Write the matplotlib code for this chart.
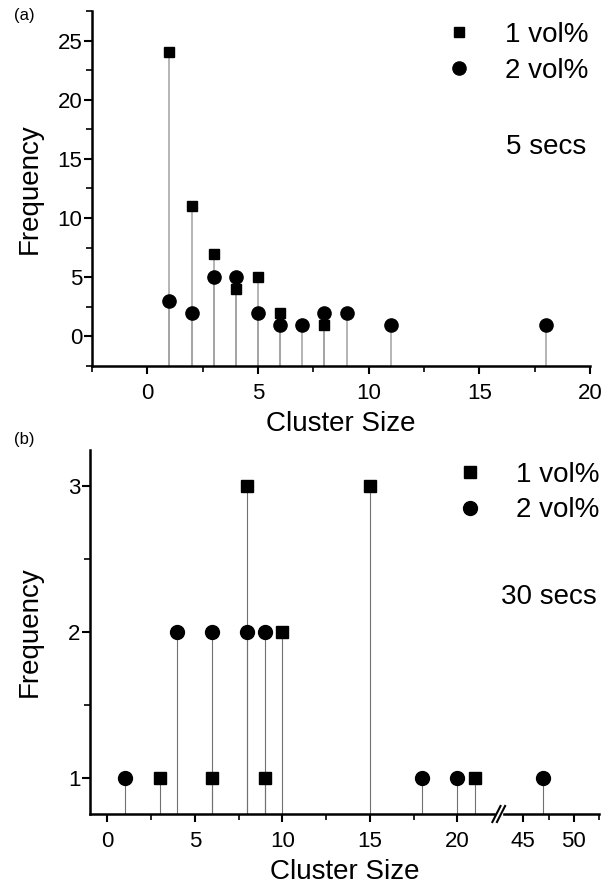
import numpy as np
import matplotlib
matplotlib.use("Agg")
from matplotlib import pyplot as plt
from matplotlib.ticker import FixedLocator, NullFormatter

plt.rcParams['font.family'] = ['Liberation Sans', 'DejaVu Sans']

# panel (a): 5 secs
a_x1 = [1, 2, 3, 4, 5, 6, 8]
a_y1 = [24, 11, 7, 4, 5, 2, 1]
a_x2 = [1, 2, 3, 4, 5, 6, 7, 8, 9, 11, 18]
a_y2 = [3, 2, 5, 5, 2, 1, 1, 2, 2, 1, 1]

# panel (b): 30 secs
b_x1 = [3, 6, 8, 9, 10, 15, 21]
b_y1 = [1, 1, 3, 1, 2, 3, 1]
b_x2 = [1, 4, 6, 8, 9, 18, 20, 47]
b_y2 = [1, 2, 2, 2, 2, 1, 1, 1]

labels = ['1 vol%', '2 vol%']

# broken x axis for panel (b)
B0, B1, K = 22.5, 42.8, 10.1 / 17.5


def fwd(x):
    x = np.asarray(x, dtype=float)
    return np.where(x <= B0, x, np.where(x < B1, B0, B0 + (x - B1) * K))


def inv(y):
    y = np.asarray(y, dtype=float)
    return np.where(y <= B0, y, B1 + (y - B0) / K)


fig = plt.figure(figsize=(6.15, 8.84), dpi=100)
ax1 = fig.add_axes([0.1496, 0.5860, 0.8097, 0.4016])
ax2 = fig.add_axes([0.1463, 0.0792, 0.8277, 0.4118])


def style(ax, ypad):
    for s in ['top', 'right']:
        ax.spines[s].set_visible(False)
    for s in ['left', 'bottom']:
        ax.spines[s].set_linewidth(1.8)
    ax.tick_params(which='major', direction='out', length=6, width=1.5,
                   labelsize=16)
    ax.tick_params(which='minor', direction='out', length=4, width=1.2)
    ax.tick_params(axis='x', which='major', pad=6)
    ax.tick_params(axis='y', which='major', pad=1)
    ax.set_xlabel('Cluster Size', fontsize=20, labelpad=5.5)
    ax.set_ylabel('Frequency', fontsize=20, labelpad=ypad)


# ---- (a)
ylo = -2.5
ax1.vlines(a_x1, ylo, a_y1, color='#a0a0a0', lw=1.1, zorder=1)
ax1.vlines(a_x2, ylo, a_y2, color='#a0a0a0', lw=1.1, zorder=1)
ax1.plot(a_x1, a_y1, 's', color='black', ms=7.5, ls='none', label=labels[0], zorder=3)
ax1.plot(a_x2, a_y2, 'o', color='black', ms=9.5, ls='none', label=labels[1], zorder=3)
ax1.set_xlim(-2.5, 20)
ax1.set_ylim(ylo, 27.5)
ax1.set_xticks([0, 5, 10, 15, 20])
ax1.set_xticks(np.arange(-2.5, 20, 2.5), minor=True)
ax1.set_yticks([0, 5, 10, 15, 20, 25])
ax1.set_yticks(np.arange(-2.5, 27.6, 2.5), minor=True)
style(ax1, 10.5)
ax1.legend(loc='upper right', bbox_to_anchor=(1.036, 1.024), frameon=False,
           fontsize=20, handletextpad=0.65, labelspacing=0.35, borderpad=0.2)
ax1.text(0.992, 0.617, '5 secs', transform=ax1.transAxes, fontsize=20,
         ha='right', va='center')
fig.text(0.022, 0.982, '(a)', fontsize=12, ha='left', va='center')

# ---- (b)
ylo = 0.75
ax2.set_xscale('function', functions=(fwd, inv))
ax2.vlines(b_x1, ylo, b_y1, color='#707070', lw=0.8, zorder=1)
ax2.vlines(b_x2, ylo, b_y2, color='#707070', lw=0.8, zorder=1)
ax2.plot(b_x1, b_y1, 's', color='black', ms=9, ls='none', label=labels[0], zorder=3)
ax2.plot(b_x2, b_y2, 'o', color='black', ms=10, ls='none', label=labels[1], zorder=3)
ax2.set_xlim(-1, 52.5)
ax2.set_ylim(ylo, 3.25)
ax2.xaxis.set_major_locator(FixedLocator([0, 5, 10, 15, 20, 45, 50]))
ax2.xaxis.set_minor_locator(FixedLocator([2.5, 7.5, 12.5, 17.5, 47.5, 52.5]))
ax2.xaxis.set_minor_formatter(NullFormatter())
ax2.set_xticklabels(['0', '5', '10', '15', '20', '45', '50'])
ax2.set_yticks([1, 2, 3])
ax2.set_yticks([1.5, 2.5], minor=True)
style(ax2, 18)
ax2.legend(loc='upper right', bbox_to_anchor=(1.039, 1.021), frameon=False,
           fontsize=20, handletextpad=0.65, labelspacing=0.35, borderpad=0.2)
ax2.text(0.996, 0.596, '30 secs', transform=ax2.transAxes, fontsize=20,
         ha='right', va='center')
fig.text(0.022, 0.503, '(b)', fontsize=12, ha='left', va='center')

# break marks on the x axis
bx = 0.803
ax2.add_patch(plt.Rectangle((bx - 0.006, -0.01), 0.012, 0.02, transform=ax2.transAxes,
                            color='white', clip_on=False, zorder=5))
for dx in (-0.0045, 0.0045):
    ax2.plot([bx + dx - 0.008, bx + dx + 0.008], [-0.022, 0.022], color='black',
             lw=1.5, transform=ax2.transAxes, clip_on=False, zorder=6)

fig.savefig('out.png', dpi=100)
